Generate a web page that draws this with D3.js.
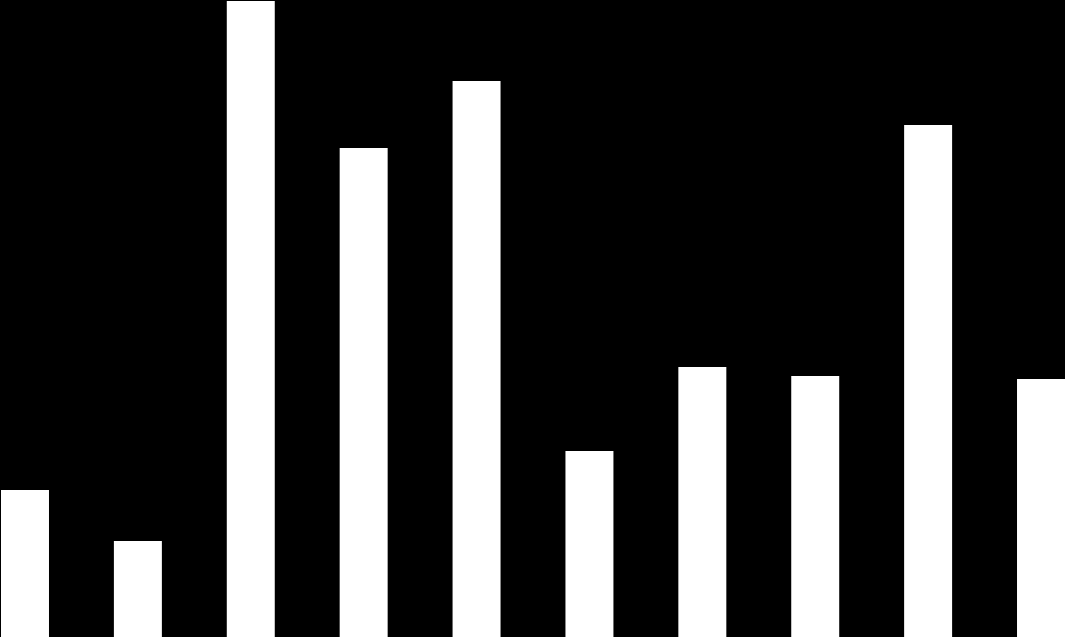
<!DOCTYPE html>
<html>
<head>
<meta charset="utf-8">
<script src="https://cdn.jsdelivr.net/npm/d3@7"></script>
<style>
html,body{margin:0;padding:0;background:#000;overflow:hidden;}
svg{display:block;}
</style>
</head>
<body>
<svg id="chart" width="1065" height="637"></svg>
<script>
const categories = ["A","B","C","D","E","F","G","H","I","J"];
const values = [147, 96, 636, 489, 556, 186, 270, 261, 512, 258];

const W = 1065, H = 637;
const svg = d3.select("#chart");
svg.append("rect").attr("width", W).attr("height", H).attr("fill", "#000");

const x = d3.scaleBand().domain(categories).range([1, W]).paddingInner(0.575).paddingOuter(0);
const y = d3.scaleLinear().domain([0, 637]).range([H, 0]);

svg.selectAll("rect.bar")
  .data(categories.map((c, i) => ({c, v: values[i]})))
  .join("rect")
  .attr("class", "bar")
  .attr("x", d => x(d.c))
  .attr("width", x.bandwidth())
  .attr("y", d => y(d.v))
  .attr("height", d => H - y(d.v))
  .attr("fill", "#fff");
</script>
</body>
</html>
